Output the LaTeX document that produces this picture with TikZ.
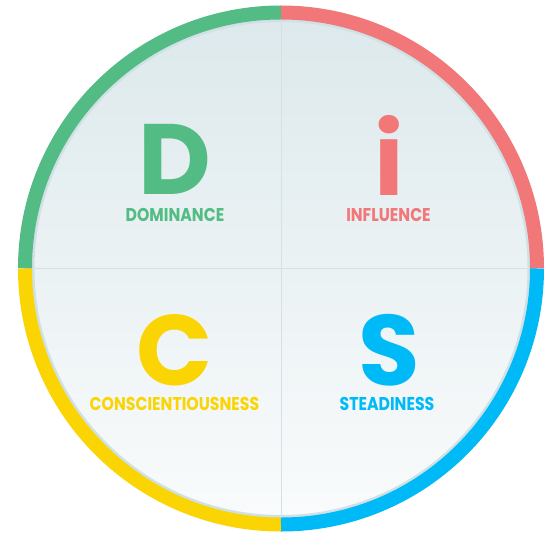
\documentclass[tikz,border=0pt]{standalone}
\usepackage{fontspec}
\newfontfamily\discfont{Poppins}
\definecolor{dgreen}{RGB}{82,188,132}
\definecolor{ipink}{RGB}{242,119,121}
\definecolor{cyellow}{RGB}{251,212,4}
\definecolor{sblue}{RGB}{0,186,247}
\definecolor{rimgrey}{RGB}{208,225,229}
\definecolor{splitgrey}{RGB}{212,226,230}
\definecolor{disctop}{RGB}{221,233,236}
\definecolor{discbottom}{RGB}{249,251,252}

\begin{document}
\begin{tikzpicture}
[
x=1pt,y=1pt,
quarter/.style={line width=14pt},
letter/.style={text=#1,anchor=base,inner sep=0pt,text depth=0pt,font=\discfont\bfseries\fontsize{100}{100}\selectfont},
caption/.style={text=#1,anchor=base,inner sep=0pt,xscale=0.85,font=\discfont\bfseries\fontsize{18.5}{18.5}\selectfont},
]
\useasboundingbox (-281,-266.5) rectangle (272,268.5);

% disc
\shade[top color=disctop,bottom color=discbottom] (0,0) circle (250);
\draw[rimgrey,line width=3pt] (0,0) circle (248);
\draw[splitgrey,line width=0.8pt] (-248,0) -- (248,0);
\draw[splitgrey,line width=0.8pt] (0,-248) -- (0,248);

% coloured rim
\draw[quarter,ipink] (256,0) arc[start angle=0,end angle=90,radius=256];
\draw[quarter,dgreen] (0,256) arc[start angle=90,end angle=180,radius=256];
\draw[quarter,cyellow] (-256,0) arc[start angle=180,end angle=270,radius=256];
\draw[quarter,sblue] (0,-256) arc[start angle=270,end angle=360,radius=256];

\node[letter=dgreen] (d) at (-106,73.5) {D};
\node[letter=ipink] (i) at (108,72.5) {i};
\node[letter=cyellow] (c) at (-106,-116.5) {C};
\node[letter=sblue] (s) at (108,-116.5) {S};

\node[caption=dgreen] (dom) at (-106,46.5) {DOMINANCE};
\node[caption=ipink] (inf) at (107.5,46.5) {INFLUENCE};
\node[caption=cyellow] (con) at (-106.5,-141.5) {CONSCIENTIOUSNESS};
\node[caption=sblue] (ste) at (106,-141.5) {STEADINESS};

\end{tikzpicture}
\end{document}
